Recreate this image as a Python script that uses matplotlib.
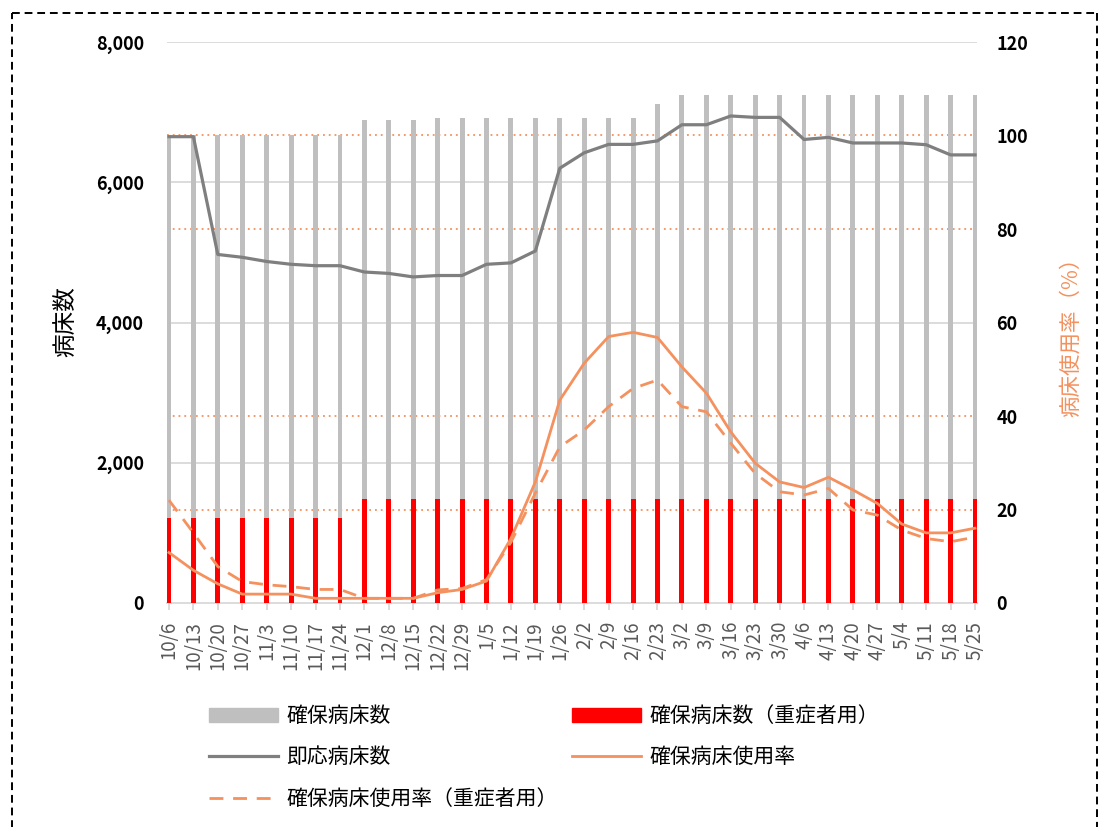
import matplotlib
matplotlib.use("Agg")
import matplotlib.pyplot as plt
from matplotlib.lines import Line2D
from matplotlib.patches import Patch
import numpy as np

plt.rcParams['font.family'] = ['Noto Sans CJK JP', 'DejaVu Sans']

dates = ["10/6", "10/13", "10/20", "10/27", "11/3", "11/10", "11/17", "11/24",
         "12/1", "12/8", "12/15", "12/22", "12/29", "1/5", "1/12", "1/19", "1/26",
         "2/2", "2/9", "2/16", "2/23", "3/2", "3/9", "3/16", "3/23", "3/30",
         "4/6", "4/13", "4/20", "4/27", "5/4", "5/11", "5/18", "5/25"]

secured_beds = [6670, 6670, 6670, 6670, 6670, 6670, 6670, 6670,
                6890, 6890, 6890, 6920, 6920, 6920, 6920, 6920, 6920,
                6920, 6920, 6920, 7120, 7240, 7240, 7240, 7240, 7240,
                7240, 7240, 7240, 7240, 7240, 7240, 7240, 7240]

secured_severe = [1215, 1215, 1215, 1215, 1215, 1215, 1215, 1215,
                  1480, 1480, 1480, 1480, 1480, 1480, 1480, 1480, 1480,
                  1480, 1480, 1480, 1480, 1480, 1480, 1480, 1480, 1480,
                  1480, 1480, 1480, 1480, 1480, 1480, 1480, 1480]

immediate_beds = [6650, 6650, 4970, 4930, 4870, 4830, 4810, 4810,
                  4720, 4700, 4650, 4670, 4670, 4830, 4850, 5020, 6200,
                  6420, 6540, 6540, 6590, 6820, 6820, 6945, 6925, 6925,
                  6610, 6640, 6560, 6560, 6560, 6535, 6390, 6390]

usage_rate = [10.8, 7.0, 4.1, 1.9, 1.9, 1.9, 1.0, 1.0,
              1.0, 1.0, 1.0, 2.2, 2.9, 4.7, 13.8, 25.9, 43.4,
              51.3, 57.0, 57.9, 56.8, 50.5, 44.9, 36.6, 29.9, 25.9,
              24.7, 26.9, 24.2, 21.3, 16.9, 15.0, 15.0, 16.0]

usage_rate_severe = [22.0, 15.0, 7.8, 4.6, 3.9, 3.5, 2.9, 2.9,
                     1.0, 1.0, 1.0, 2.8, 3.1, 5.0, 13.0, 23.5, 33.4,
                     37.0, 42.0, 45.9, 47.7, 42.0, 40.9, 34.2, 27.7, 23.8,
                     23.1, 24.5, 19.9, 18.8, 15.6, 13.8, 13.1, 14.1]

left_ticks = [0, 2000, 4000, 6000, 8000]
right_ticks = [0, 20, 40, 60, 80, 100, 120]

GRAY_BAR = "#BFBFBF"
RED = "#FF0000"
DARK = "#7F7F7F"
ORANGE = "#F4915E"

W, H = 1102, 827
fig = plt.figure(figsize=(W/100, H/100), dpi=100)
ax = fig.add_axes([167/W, 1-603/H, (977-167)/W, (603-42)/H])
ax2 = ax.twinx()

x = np.arange(len(dates))

# gridlines
for t in left_ticks[1:]:
    ax.axhline(t, color="#D9D9D9", lw=1.3, zorder=0.5)
for r in [20, 40, 80, 100]:
    ax.axhline(r / 120 * 8000, color=ORANGE, lw=1.3, ls=(0, (1, 2.2)), zorder=0.6)

ax.bar(x, secured_beds, width=0.2, color=GRAY_BAR, zorder=1, clip_on=False)
ax.bar(x, secured_severe, width=0.2, color=RED, zorder=2, clip_on=False)
ax.plot(x, immediate_beds, color=DARK, lw=2.3, zorder=3)

ax2.plot(x, usage_rate, color=ORANGE, lw=2.0, zorder=3)
ax2.plot(x, usage_rate_severe, color=ORANGE, lw=2.0, ls=(0, (5, 3.5)), zorder=3)

ax.set_xlim(-0.08, len(dates) - 1 + 0.08)
ax.set_ylim(0, 8000)
ax2.set_ylim(0, 120)

ax.set_yticks(left_ticks)
ax.set_yticklabels([f"{t:,}" for t in left_ticks], fontsize=13, fontweight="bold")
ax2.set_yticks(right_ticks)
ax2.set_yticklabels([str(t) for t in right_ticks], fontsize=13, fontweight="bold")
ax.set_xticks(x)
ax.set_xticklabels(dates, rotation=90, fontsize=13.5, color="#595959")

ax.tick_params(axis="y", length=0, pad=16.5)
ax2.tick_params(axis="y", length=0, pad=14)
ax.tick_params(axis="x", length=5, color="#D9D9D9", width=1.3, pad=8)

for a in (ax, ax2):
    for s in ("top", "right", "left", "bottom"):
        a.spines[s].set_visible(False)
ax.axhline(0, color="#D9D9D9", lw=1.3, zorder=0.5, clip_on=False)

fig.text(66/W, 1-322/H, "病床数", fontsize=17, rotation=90, ha="center", va="center")
fig.text(1071/W, 1-332/H, "病床使用率（%）", fontsize=15.5, rotation=90,
         ha="center", va="center", color=ORANGE)

handles = [
    Patch(facecolor=GRAY_BAR, edgecolor=GRAY_BAR),
    Line2D([], [], color=DARK, lw=2.3),
    Line2D([], [], color=ORANGE, lw=2.0, ls=(0, (5, 3.5))),
    Patch(facecolor=RED, edgecolor=RED),
    Line2D([], [], color=ORANGE, lw=2.0),
]
labels = ["確保病床数", "即応病床数", "確保病床使用率（重症者用）",
          "確保病床数（重症者用）", "確保病床使用率"]
fig.legend(handles, labels, loc="upper left", bbox_to_anchor=(209/W, 1-705/H),
           ncol=2, frameon=False, fontsize=15, handlelength=3.3, handleheight=0.67,
           handletextpad=0.4, columnspacing=0.7, labelspacing=0.93,
           borderpad=0, borderaxespad=0)

# dashed border
bx0, bx1 = 12/W, 1097/W
by1 = 1 - 13/H
for xs, ys in [([bx0, bx0], [-0.01, by1]), ([bx0, bx1], [by1, by1]), ([bx1, bx1], [by1, -0.01])]:
    fig.add_artist(Line2D(xs, ys, color="black", lw=1.4, ls=(0, (4, 2.5)),
                          transform=fig.transFigure))

fig.savefig("out.png", dpi=100)
